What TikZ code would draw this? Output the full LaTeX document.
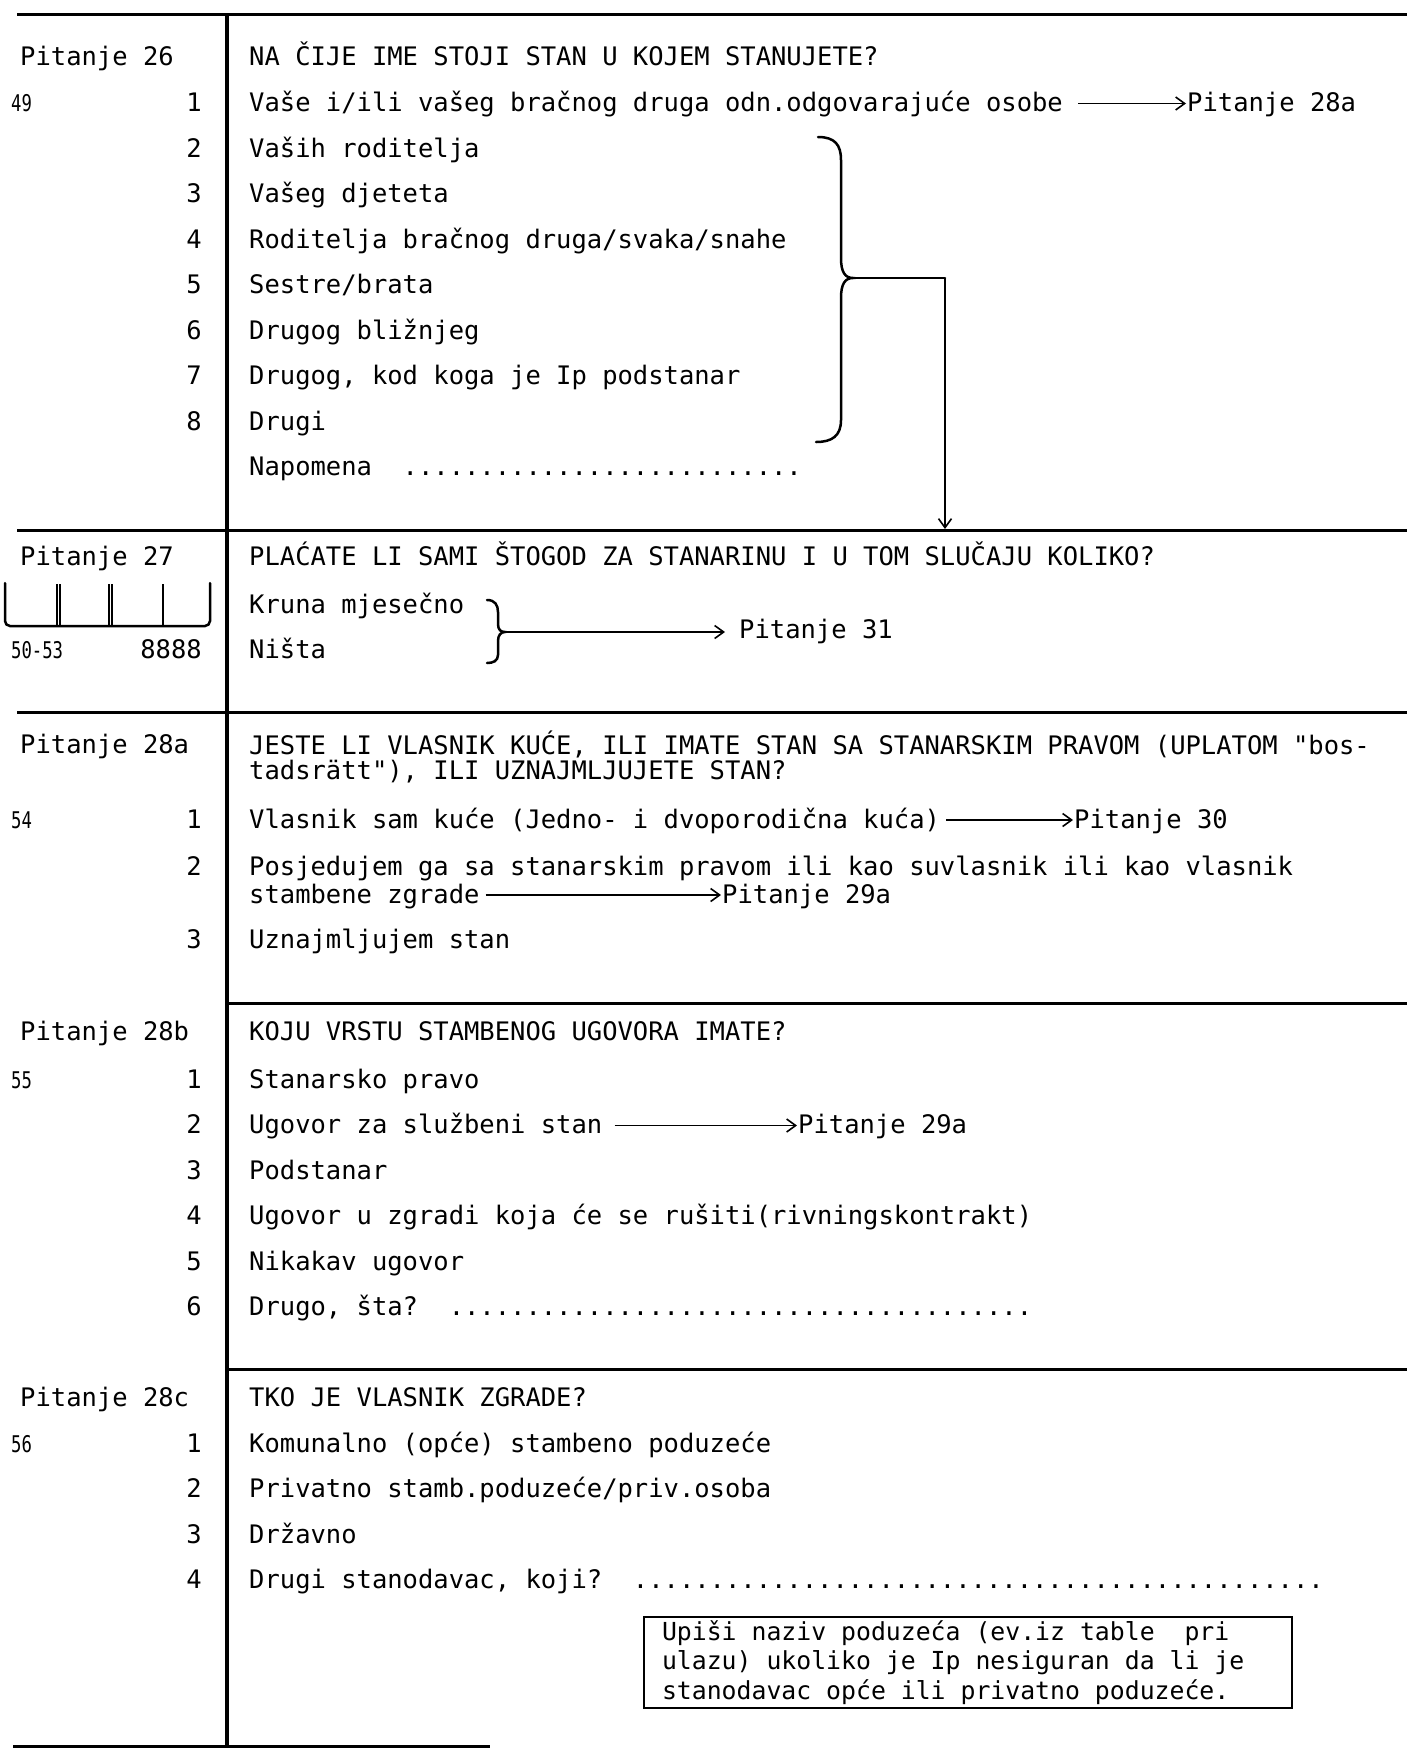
\documentclass[tikz,border=0pt]{standalone}
\usepackage{fontspec}
\setmonofont{DejaVu Sans Mono}
\newfontfamily\narrowfont[FakeStretch=0.75]{DejaVu Sans Mono}
\usetikzlibrary{arrows.meta}

\tikzset{
    entry/.style={anchor=base west, inner sep=0pt, font=\ttfamily\fontsize{25.5}{29}\selectfont},
    codenum/.style={anchor=base east, inner sep=0pt, font=\ttfamily\fontsize{25.5}{29}\selectfont},
    smallcode/.style={anchor=base west, inner sep=0pt, font=\narrowfont\fontsize{23}{26}\selectfont},
    rule/.style={line width=3pt},
    jump/.style={line width=1.6pt, -{Straight Barb[length=9pt,width=13pt,line width=1.6pt]}},
    bracket/.style={line width=2.5pt, line cap=round},
    notebox/.style={draw, line width=2pt, inner xsep=18pt, inner ysep=0pt, text width=612pt, minimum height=91pt, align=left, font=\ttfamily\fontsize{24.8}{29.5}\selectfont}
}

\newcommand{\fillin}[1]{\foreach \k in {1,...,#1}{.}}

\begin{document}
\begin{tikzpicture}[x=1pt, y=-1pt]
    \useasboundingbox (0,0) rectangle (1407,1751);

    % Rules
    \draw[rule] (17,14) -- (1407,14);
    \draw[rule] (17,530) -- (1407,530);
    \draw[rule] (17,712) -- (1407,712);
    \draw[rule] (227,1003) -- (1407,1003);
    \draw[rule] (227,1369) -- (1407,1369);
    \draw[rule] (13,1746) -- (490,1746);
    \draw[line width=3.5pt] (227,14) -- (227,1746);

    % Question heads
    \foreach \name/\ypos/\txt in {headA/65.5/{Pitanje 26}, headB/565/{Pitanje 27}, headC/753/{Pitanje 28a}, headD/1040/{Pitanje 28b}, headE/1406/{Pitanje 28c}}
        \node[entry] (\name) at (20,\ypos) {\txt};

    \foreach \name/\ypos/\txt in {askA/65.5/{NA ČIJE IME STOJI STAN U KOJEM STANUJETE?}, askB/565/{PLAĆATE LI SAMI ŠTOGOD ZA STANARINU I U TOM SLUČAJU KOLIKO?}, askC/754/{JESTE LI VLASNIK KUĆE, ILI IMATE STAN SA STANARSKIM PRAVOM (UPLATOM "bos-}, askCb/779/{tadsrätt"), ILI UZNAJMLJUJETE STAN?}, askD/1040/{KOJU VRSTU STAMBENOG UGOVORA IMATE?}, askE/1406/{TKO JE VLASNIK ZGRADE?}}
        \node[entry] (\name) at (249,\ypos) {\txt};

    % Column codes
    \foreach \name/\ypos/\txt in {colA/111.5/49, colB/658/50-53, colC/828/54, colD/1088/55, colE/1452/56}
        \node[smallcode] (\name) at (11,\ypos) {\txt};
    \node[codenum] (colBb) at (202,658) {8888};

    % Answers
    \foreach \name/\ypos/\txt in {stanA/111.5/{Vaše i/ili vašeg bračnog druga odn.odgovarajuće osobe}, stanB/157/{Vaših roditelja}, stanC/202.5/{Vašeg djeteta}, stanD/248/{Roditelja bračnog druga/svaka/snahe}, stanE/293.5/{Sestre/brata}, stanF/339/{Drugog bližnjeg}, stanG/384.5/{Drugog, kod koga je Ip podstanar}, stanH/430/{Drugi}, stanNote/475.5/{Napomena\ \ \fillin{26}}}
        \node[entry] (\name) at (249,\ypos) {\txt};

    \foreach \name/\ypos/\txt in {najamA/613/{Kruna mjesečno}, najamB/658/{Ništa}}
        \node[entry] (\name) at (249,\ypos) {\txt};

    \foreach \name/\ypos/\txt in {vlasA/828/{Vlasnik sam kuće (Jedno- i dvoporodična kuća)}, vlasB/875/{Posjedujem ga sa stanarskim pravom ili kao suvlasnik ili kao vlasnik}, vlasBb/903/{stambene zgrade}, vlasC/948/{Uznajmljujem stan}}
        \node[entry] (\name) at (249,\ypos) {\txt};

    \foreach \name/\ypos/\txt in {ugovA/1088/{Stanarsko pravo}, ugovB/1133.5/{Ugovor za službeni stan}, ugovC/1179/{Podstanar}, ugovD/1224.5/{Ugovor u zgradi koja će se rušiti(rivningskontrakt)}, ugovE/1270/{Nikakav ugovor}, ugovF/1315.5/{Drugo, šta?\ \ \fillin{38}}}
        \node[entry] (\name) at (249,\ypos) {\txt};

    \foreach \name/\ypos/\txt in {zgradA/1452/{Komunalno (opće) stambeno poduzeće}, zgradB/1497.5/{Privatno stamb.poduzeće/priv.osoba}, zgradC/1543/{Državno}, zgradD/1588.5/{Drugi stanodavac, koji?\ \ \fillin{45}}}
        \node[entry] (\name) at (249,\ypos) {\txt};

    % Answer numbers
    \foreach \ypos/\num in {111.5/1, 157/2, 202.5/3, 248/4, 293.5/5, 339/6, 384.5/7, 430/8, 828/1, 875/2, 948/3, 1088/1, 1133.5/2, 1179/3, 1224.5/4, 1270/5, 1315.5/6, 1452/1, 1497.5/2, 1543/3, 1588.5/4}
        \node[codenum] at (202,\ypos) {\num};

    % Jumps
    \node[entry] (gotoA) at (1187,111.5) {Pitanje 28a};
    \node[entry] (gotoB) at (739,638) {Pitanje 31};
    \node[entry] (gotoC) at (1074,828) {Pitanje 30};
    \node[entry] (gotoD) at (722,903) {Pitanje 29a};
    \node[entry] (gotoE) at (798,1133.5) {Pitanje 29a};

    \draw[jump] ([shift={(15,-8)}]stanA.base east) -- ([shift={(-1,-8)}]gotoA.base west);
    \draw[jump] ([shift={(6,-8)}]vlasA.base east) -- ([shift={(-1,-8)}]gotoC.base west);
    \draw[jump] ([shift={(6,-8)}]vlasBb.base east) -- ([shift={(-1,-8)}]gotoD.base west);
    \draw[jump] ([shift={(12,-8)}]ugovB.base east) -- ([shift={(-1,-8)}]gotoE.base west);

    % Brace for 2-8
    \coordinate (braceTopA) at (818,137);
    \coordinate (braceTipA) at (853,278);
    \coordinate (braceBotA) at (816,442);
    \coordinate (turnA) at (945,278);
    \coordinate (dropA) at (945,529);

    \draw[bracket] (braceTopA) .. controls (835,137) and (841,145) .. (841,160) -- (841,258) .. controls (841,272) and (845,278) .. (braceTipA) .. controls (845,278) and (841,284) .. (841,298) -- (841,420) .. controls (841,436) and (832,442) .. (braceBotA);
    \draw[bracket] (braceTipA) -- (turnA);
    \draw[jump, line width=2pt] (turnA) -- (dropA);

    % Brace for 27
    \coordinate (braceTopB) at (487,600);
    \coordinate (braceTipB) at (505,632);
    \coordinate (braceBotB) at (487,663);

    \draw[bracket] (braceTopB) .. controls (495,600) and (498,605) .. (498,612) -- (498,624) .. controls (498,630) and (501,632) .. (braceTipB) .. controls (501,632) and (498,635) .. (498,641) -- (498,655) .. controls (498,661) and (493,663) .. (braceBotB);
    \draw[jump] (braceTipB) -- ([shift={(-14,-6)}]gotoB.base west);

    % Code boxes for 27
    \draw[bracket, rounded corners=5pt] (5,583) -- (5,626) -- (210,626) -- (210,583);
    \foreach \x in {57, 60, 109, 112, 163}
        \draw[line width=2pt] (\x,584) -- (\x,626);

    % Note
    \node[notebox] (note) at (968,1662.5) {\spaceskip=\fontdimen2\font\relax Upiši naziv poduzeća (ev.iz table\ \ pri\\ulazu) ukoliko je Ip nesiguran da li je\\stanodavac opće ili privatno poduzeće.};
\end{tikzpicture}
\end{document}
